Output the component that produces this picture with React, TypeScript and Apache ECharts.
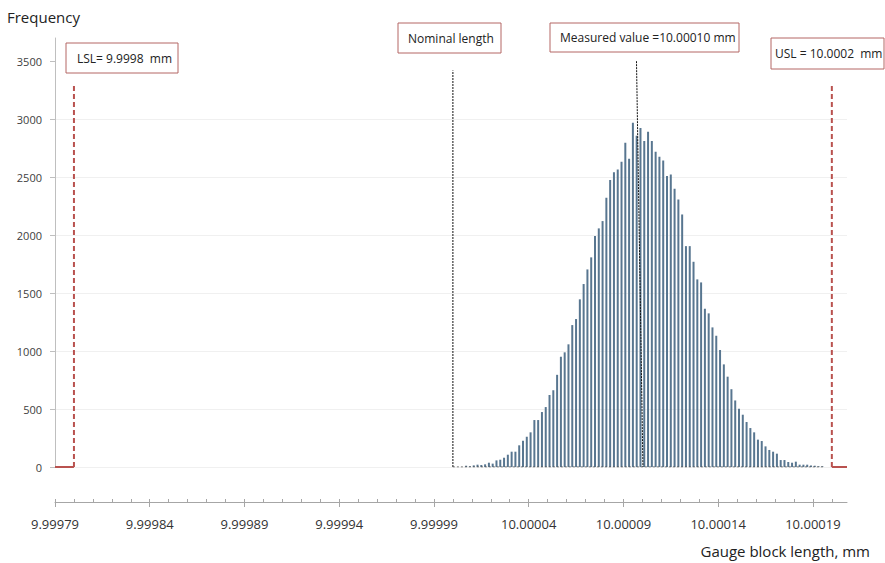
import React, { useEffect, useRef } from "react";
import * as echarts from "echarts";

// ---- axis definition (gauge block length, mm) ----
const AXIS_MIN_LEN = 9.99979;
const AXIS_MAX_LEN = 10.000208;
const AXIS_UNIT = 0.00001; // one minor tick
const majorTickLengths = [9.99979, 9.99984, 9.99989, 9.99994, 9.99999, 10.00004, 10.00009, 10.00014, 10.00019];
const yTickValues = [0, 500, 1000, 1500, 2000, 2500, 3000, 3500];
const Y_MAX = 3700;

// ---- histogram ----
const FIRST_BIN_CENTER = 10.000007;
const BIN_WIDTH = 0.000002;
const frequencies = [
  11, 6, 14, 20, 17, 23, 37, 29, 57, 63, 80, 106, 132, 132, 187, 227, 261, 299, 405, 405,
  474, 517, 621, 662, 795, 951, 989, 1058, 1224, 1276, 1446, 1578, 1704, 1808, 1992, 2058,
  2121, 2322, 2475, 2543, 2566, 2633, 2796, 2658, 2969, 2857, 2923, 2812, 2891, 2811, 2719,
  2676, 2644, 2509, 2523, 2400, 2308, 2178, 1905, 1905, 1770, 1618, 1592, 1365, 1325, 1204,
  1132, 1009, 885, 779, 671, 574, 503, 451, 388, 336, 299, 236, 224, 178, 147, 132, 115, 60,
  60, 43, 37, 46, 20, 20, 20, 14, 11, 6, 6,
];

// ---- reference lines ----
const LSL = 9.9998;
const USL = 10.0002;
const NOMINAL = 10.0;
const LIMIT_LINE_TOP = 3300;
const NOMINAL_LINE_TOP = 3420;
const measuredLine: [number, number][] = [
  [10.0000969, 3500],
  [10.0001003, 0],
];
const histogramBaseEnd = 10.0001963;

// ---- annotation texts ----
const labelLSL = "LSL= 9.9998  mm";
const labelUSL = "USL = 10.0002  mm";
const labelNominal = "Nominal length";
const labelMeasured = "Measured value =10.00010 mm";
const yTitle = "Frequency";
const xTitle = "Gauge block length, mm";

const FONT = "'Open Sans', 'Noto Sans', sans-serif";

const toU = (len: number) => Math.round(((len - AXIS_MIN_LEN) / AXIS_UNIT) * 10000) / 10000;

function lineSeries(points: [number, number][], color: string, width: number, type: any) {
  return {
    type: "line",
    xAxisIndex: 0,
    data: points.map(([l, f]) => [toU(l), f]),
    symbol: "none",
    silent: true,
    z: 5,
    lineStyle: { color, width, type },
  };
}

export default function App() {
  const ref = useRef<HTMLDivElement>(null);

  useEffect(() => {
    if (!ref.current) return;
    const chart = echarts.init(ref.current, undefined, { renderer: "svg" });

    const majorU = majorTickLengths.map(toU);
    const maxU = toU(AXIS_MAX_LEN);
    const minorU: number[] = [];
    for (let i = 0; i <= Math.floor(maxU); i++) minorU.push(i);

    const barData = frequencies.map((f, i) => [toU(FIRST_BIN_CENTER + i * BIN_WIDTH), f]);

    const red = "#b9524f";
    const boxBorder = "#b46664";

    const box = (x: number, y: number, w: number, h: number, text: string, tx: number) => [
      {
        type: "rect",
        shape: { x, y, width: w, height: h },
        style: { fill: "#ffffff", stroke: boxBorder, lineWidth: 1 },
        z: 100,
      },
      {
        type: "text",
        x: tx,
        y: y + h / 2,
        style: {
          text,
          fill: "#222222",
          font: `12px ${FONT}`,
          verticalAlign: "middle",
          align: "left",
        },
        z: 101,
      },
    ];

    chart.setOption({
      animation: false,
      backgroundColor: "#ffffff",
      grid: { left: 55, right: 38, top: 38, bottom: 96, containLabel: false },
      xAxis: [
        {
          type: "value",
          min: 0,
          max: maxU,
          offset: 35,
          position: "bottom",
          axisLine: { show: true, onZero: false, lineStyle: { color: "#a6a6a6", width: 1 } },
          axisTick: { show: true, customValues: majorU, length: 5, lineStyle: { color: "#a6a6a6" } },
          axisLabel: {
            customValues: majorU,
            formatter: (v: number) => (AXIS_MIN_LEN + v * AXIS_UNIT).toFixed(5),
            fontSize: 13,
            color: "#333333",
            margin: 15,
            fontFamily: FONT,
          },
          splitLine: { show: false },
        },
        {
          type: "value",
          min: 0,
          max: maxU,
          offset: 35,
          position: "bottom",
          axisLine: { show: false, onZero: false },
          axisTick: { show: true, customValues: minorU, inside: true, length: 3, lineStyle: { color: "#a6a6a6" } },
          axisLabel: { show: false },
          splitLine: { show: false },
        },
      ],
      yAxis: {
        type: "value",
        min: 0,
        max: Y_MAX,
        interval: 500,
        axisLine: { show: true, lineStyle: { color: "#bfbfbf" } },
        axisTick: { show: true, customValues: yTickValues, length: 5, lineStyle: { color: "#bfbfbf" } },
        axisLabel: {
          customValues: yTickValues,
          formatter: (v: number) => String(v),
          fontSize: 11,
          color: "#404040",
          margin: 13,
          fontFamily: FONT,
        },
        splitLine: { show: true, showMaxLine: false, lineStyle: { color: "#f0f0f0", width: 1 } },
      },
      series: [
        {
          type: "bar",
          xAxisIndex: 0,
          data: barData,
          barWidth: 2,
          silent: true,
          itemStyle: { color: "#587690" },
          z: 3,
        },
        lineSeries([[NOMINAL, 0], [histogramBaseEnd, 0]], "#555555", 1, [2, 2]),
        lineSeries([[AXIS_MIN_LEN, 0], [LSL, 0]], red, 2, "solid"),
        lineSeries([[LSL, 0], [LSL, LIMIT_LINE_TOP]], red, 2, [5, 3]),
        lineSeries([[USL, 0], [AXIS_MAX_LEN, 0]], red, 2, "solid"),
        lineSeries([[USL, 0], [USL, LIMIT_LINE_TOP]], red, 2, [5, 3]),
        lineSeries([[NOMINAL, 0], [NOMINAL, NOMINAL_LINE_TOP]], "#111111", 1, [2, 1]),
        lineSeries(measuredLine, "#111111", 1, [2, 1]),
      ],
      graphic: [
        {
          type: "text",
          x: 7,
          y: 17,
          style: { text: yTitle, fill: "#222222", font: `15px ${FONT}`, verticalAlign: "middle" },
        },
        {
          type: "text",
          x: 870,
          y: 551,
          style: { text: xTitle, fill: "#222222", font: `15px ${FONT}`, verticalAlign: "middle", align: "right" },
        },
        ...box(66, 43, 112, 30, labelLSL, 77),
        ...box(398, 23, 103, 30, labelNominal, 408),
        ...box(550, 23, 189, 29, labelMeasured, 560),
        ...box(771, 38, 113, 31, labelUSL, 775),
      ],
    });

    return () => chart.dispose();
  }, []);

  return (
    <div
      ref={ref}
      style={{ position: "fixed", left: 0, top: 0, width: 885, height: 563, background: "#fff" }}
    />
  );
}
